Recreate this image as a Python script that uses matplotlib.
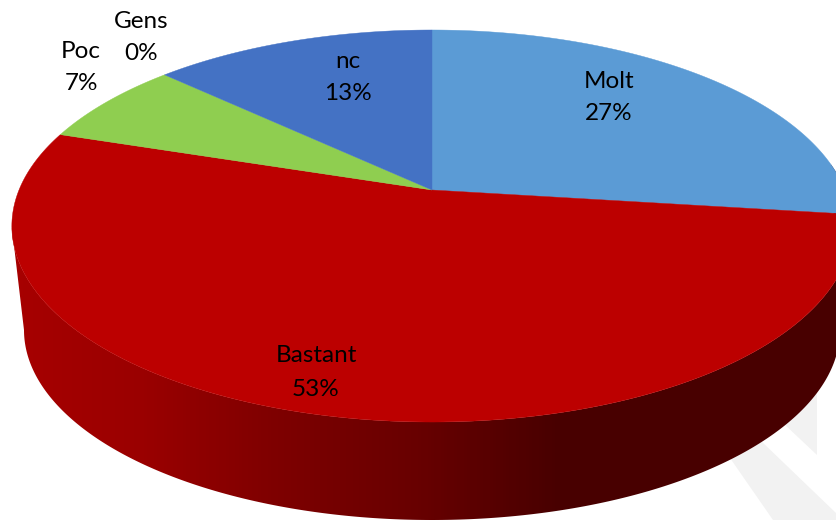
import numpy as np
import matplotlib
matplotlib.use('Agg')
import matplotlib.pyplot as plt
from matplotlib.colors import LinearSegmentedColormap
from matplotlib.patches import Polygon

categories = ['Molt', 'Bastant', 'Poc', 'Gens', 'nc']
values = [27, 53, 7, 0, 13]
colors = ['#5B9BD5', '#BC0000', '#8FCE50', '#8FCE50', '#4472C4']
label_x = [609, 316, 81, 141, 348]
label_y = [81, 356, 51, 21, 61]

W, H = 836, 520
# top face of the pie, a tilted disc
cx, cy = 432, 190
A, B, k = 413, 189.4, 0.1837
# lower rim
low_cx, low_cy, low_a, low_b = 432, 330, 408, 190


def project(t):
    u, v = np.cos(t), np.sin(t)
    w = 1 + k * v
    return cx + A * u / w, cy - B * v / w


fig = plt.figure(figsize=(W / 100, H / 100), dpi=100)
ax = fig.add_axes([0, 0, 1, 1])
ax.set_xlim(0, W)
ax.set_ylim(H, 0)
ax.axis('off')

# faint watermark stripes
wm_color = '#F2F2F2'
ax.add_patch(Polygon([(730, 458), (773, 520), (836, 520), (836, 513), (760, 440)],
                     fc=wm_color, ec='none', zorder=1))
ax.add_patch(Polygon([(783, 423), (817, 455), (817, 380), (783, 380)],
                     fc=wm_color, ec='none', zorder=1))

# side wall, dark gradient clipped to the silhouette
t_top = np.linspace(np.radians(191), np.radians(368), 300)
tx, ty = project(t_top)
t_low = np.linspace(np.radians(360), np.radians(180), 300)
lx = low_cx + low_a * np.cos(t_low)
ly = low_cy - low_b * np.sin(t_low)
side_pts = np.column_stack([np.r_[tx, lx], np.r_[ty, ly]])
side = Polygon(side_pts, closed=True, fc='none', ec='none', zorder=2)
ax.add_patch(side)
stops = [(0.0, '#A80000'), (0.17, '#9A0000'), (0.33, '#7E0000'), (0.5, '#680000'),
         (0.67, '#480000'), (1.0, '#480000')]
cmap = LinearSegmentedColormap.from_list('wall', stops)
img = ax.imshow(np.linspace(0, 1, W)[None, :], extent=[0, W, H, 0], cmap=cmap,
                aspect='auto', zorder=2)
img.set_clip_path(side)

# top face, one wedge per category
start = np.pi / 2
for name, val, col in zip(categories, values, colors):
    if val == 0:
        continue
    sweep = 2 * np.pi * val / sum(values)
    t = np.linspace(start, start - sweep, 200)
    x, y = project(t)
    ax.fill(np.r_[cx, x], np.r_[cy, y], fc=col, ec=col, lw=0.3, zorder=3)
    start -= sweep

plt.rcParams['font.family'] = ['Lato', 'DejaVu Sans']
for name, val, x, y in zip(categories, values, label_x, label_y):
    ax.text(x, y, name, ha='center', va='center', fontsize=17.5, color='black', zorder=4)
    ax.text(x, y + 33, f'{val}%', ha='center', va='center', fontsize=17.5, color='black', zorder=4)

ax.set_xlim(0, W)
ax.set_ylim(H, 0)
fig.savefig('out.png', dpi=100)
